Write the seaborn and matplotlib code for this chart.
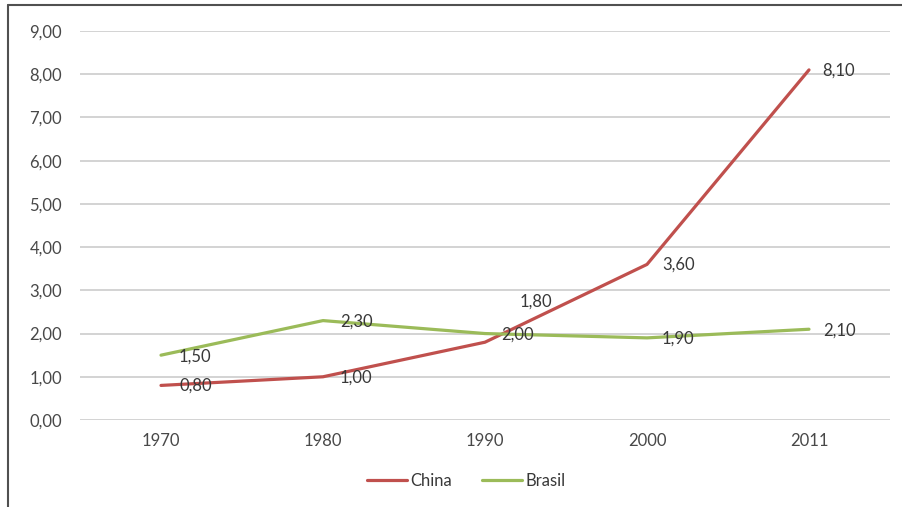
import matplotlib
matplotlib.use("Agg")
import matplotlib.pyplot as plt
from matplotlib.lines import Line2D
import seaborn as sns
import pandas as pd

anos = ["1970", "1980", "1990", "2000", "2011"]
china = [0.80, 1.00, 1.80, 3.60, 8.10]
brasil = [1.50, 2.30, 2.00, 1.90, 2.10]
series_nomes = ["China", "Brasil"]
y_ticks = [0, 1, 2, 3, 4, 5, 6, 7, 8, 9]

cores = {"China": "#C0504D", "Brasil": "#9BBB59"}

df = pd.DataFrame({
    "Ano": anos * 2,
    "Valor": china + brasil,
    "Série": ["China"] * len(anos) + ["Brasil"] * len(anos),
})

sns.set_theme(style="white")
plt.rcParams["font.family"] = ["Lato", "DejaVu Sans"]
fs = 12

fig = plt.figure(figsize=(9.02, 5.07), dpi=100)
ax = fig.add_axes([80 / 902, 87 / 507, 810 / 902, 389 / 507])

sns.lineplot(data=df, x="Ano", y="Valor", hue="Série", hue_order=series_nomes,
             palette=cores, linewidth=2.3, sort=False, ax=ax, legend=False)

ax.set_xlim(-0.5, len(anos) - 0.5)
ax.set_ylim(0, 9)
ax.set_yticks(y_ticks)
ax.set_yticklabels([f"{t:.2f}".replace(".", ",") for t in y_ticks])
ax.yaxis.grid(True, color="#D0D0D0", linewidth=1.3)
ax.set_axisbelow(True)
for s in ax.spines.values():
    s.set_visible(False)
ax.tick_params(axis="both", length=0, labelsize=fs, colors="#484848")
ax.tick_params(axis="y", pad=13)
ax.tick_params(axis="x", pad=9)
ax.set_xlabel("")
ax.set_ylabel("")

# value labels (offsets in points)
px = 0.72
offs_china = [(18, 0), (17, -1), (35, 41), (15, 0), (13, -1)]
offs_brasil = [(18, -1), (17, -1), (16, -1), (15, -1), (14, -1)]
for vals, offs in ((china, offs_china), (brasil, offs_brasil)):
    for i, (v, (dx, dy)) in enumerate(zip(vals, offs)):
        ax.annotate(f"{v:.2f}".replace(".", ","), xy=(i, v),
                    xytext=(dx * px, dy * px), textcoords="offset points",
                    ha="left", va="center", fontsize=fs, color="#383838")

handles = [Line2D([], [], color=cores[n], linewidth=2.3) for n in series_nomes]
fig.legend(handles, series_nomes, loc="center", bbox_to_anchor=(466 / 902, 1 - 481 / 507),
           ncol=2, frameon=False, fontsize=fs, handlelength=2.4, handletextpad=0.2,
           columnspacing=1.8, labelcolor="#383838")

# outer frame (left and top edges)
fig.add_artist(Line2D([8 / 902, 8 / 902], [0, 1 - 5 / 507], transform=fig.transFigure,
                      color="#505050", linewidth=1.5))
fig.add_artist(Line2D([8 / 902, 1], [1 - 5 / 507, 1 - 5 / 507], transform=fig.transFigure,
                      color="#505050", linewidth=1.5))

fig.savefig("out.png", dpi=100)
